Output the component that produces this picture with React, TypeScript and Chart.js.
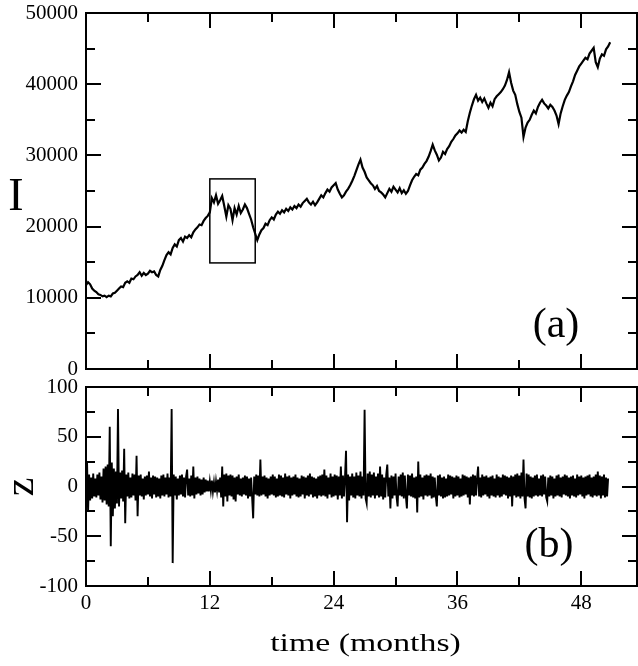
import React, { useEffect, useRef } from 'react';
import { Chart, registerables } from 'chart.js';

Chart.register(...registerables);

const FONT = '"Liberation Serif", "Times New Roman", serif';

// shared time axis (months)
const X_MIN = 0;
const X_MAX = 53.4;
const X_MAJOR = [0, 12, 24, 36, 48];
const X_MINOR = [6, 18, 30, 42];

// panel (a): index I, sampled every 0.2 months
const I_STEP = 0.2;
const I_VALUES = [
  11800, 12200, 11900, 11300, 11000, 10800, 10500, 10400, 10200, 10300,
  10100, 10300, 10200, 10600, 10700, 11000, 11300, 11600, 11500, 12100,
  12300, 12100, 12700, 12600, 13000, 13200, 13600, 13100, 13500, 13200,
  13400, 13800, 13600, 13700, 13200, 13000, 13900, 14500, 15300, 16000,
  16400, 16100, 17000, 17500, 17200, 18100, 18400, 17900, 18600, 18400,
  18800, 18500, 19200, 19600, 19900, 20300, 20200, 20800, 21200, 21500,
  22000, 24000, 23400, 24400, 23200, 23700, 24300, 22900, 21400, 23000,
  22500, 20900, 22600, 21700, 22900, 21900, 22400, 23100, 22600, 21800,
  21000, 19900, 19000, 18100, 18900, 19500, 19800, 20400, 20200, 20900,
  21300, 21000, 21700, 22100, 21800, 22300, 22000, 22500, 22200, 22700,
  22400, 22900, 22600, 23100, 22800, 23300, 23600, 23900, 23400, 23100,
  23500, 23000, 23400, 23900, 24400, 24100, 24700, 25200, 24900, 25500,
  25800, 26100, 25200, 24600, 24100, 24400, 24900, 25300, 25800, 26400,
  27100, 27900, 28700, 29400, 28300, 27700, 26900, 26500, 26100, 25800,
  25300, 25700, 25000, 24800, 24500, 24100, 24700, 25300, 24900, 25600,
  25200, 24800, 25400, 24700, 25100, 24600, 25000, 25800, 26500, 27000,
  27400, 27200, 28000, 28300, 28800, 29200, 29800, 30600, 31500, 30700,
  30100, 29300, 29700, 30500, 30200, 30900, 31300, 31900, 32300, 32800,
  33100, 33500, 33200, 33600, 33300, 34800, 36000, 37000, 37900, 38500,
  37700, 38100, 37500, 38000, 37300, 36700, 37400, 36900, 37900, 38300,
  38600, 38900, 39300, 39800, 40600, 41700, 40200, 39100, 38500, 37200,
  36100, 35300, 32600, 33900, 34600, 35000, 35700, 36300, 35900, 36800,
  37400, 37800, 37300, 37000, 36600, 37100, 36800, 36300, 35600, 34400,
  35900, 36900, 37800, 38400, 38900, 39700, 40400, 41300, 41900, 42500,
  42900, 43300, 43700, 43500, 44300, 44700, 45100, 43100, 42400, 43600,
  44200, 44000, 44900, 45300, 45900,
];
const I_MIN = 0;
const I_MAX = 50000;
const I_MAJOR = [0, 10000, 20000, 30000, 40000, 50000];
const I_MINOR = [5000, 15000, 25000, 35000, 45000];
const BOX_MONTHS = [12, 16.4];
const BOX_I = [14900, 26700];

// panel (b): z, sampled every 0.1 months
const Z_STEP = 0.1;
const Z_VALUES = [
  4, 25, -25, 12, -14, 9, -12, 13, -10, 8,
  -11, 12, -9, 14, -13, 10, -16, 18, -14, 20,
  -18, 22, -20, 60, -60, 24, -30, 18, -22, 15,
  -17, 78, -20, 14, -12, 16, -15, 38, -37, 12,
  -10, 14, -12, 9, -11, 13, -9, 12, -14, 31,
  -30, 11, -9, 12, -10, 8, -13, 10, -9, 11,
  -8, 15, -10, 9, -12, 11, -8, 10, -11, 9,
  -10, 8, -12, 11, -9, 12, -10, 9, -8, 13,
  -11, 9, -10, 78, -77, 12, -9, 10, -13, 8,
  -9, 11, -8, 12, -10, 9, -11, 10, 17, -9,
  8, -10, 11, -9, 20, -12, 9, -8, 10, -7,
  8, -9, 7, -8, 9, -6, 7, -5, 6, -5,
  5, -4, 6, -5, 4, -6, 5, -4, 7, -6,
  9, -11, 20, -20, 12, -10, 13, -15, 11, -9,
  12, -10, 11, -13, 9, -15, 10, -8, 12, -9,
  8, -10, 9, -8, 11, -9, 10, -12, 8, -10,
  9, -11, -32, 10, -8, 12, -9, 11, -10, 27,
  -9, 10, -8, 11, -10, 9, -12, 8, -9, 10,
  -8, 12, -9, 10, -11, 8, -10, 12, -9, 11,
  -10, 9, -11, 13, -8, 10, -9, 11, -12, 9,
  -9, 10, -8, 12, -10, 9, -11, 8, -10, 11,
  -8, 10, -12, 9, -9, 11, -10, 13, -8, 10,
  -11, 9, -10, 8, -12, 10, -9, 11, -10, 12,
  -9, 17, -10, 11, -12, 9, -8, 13, -11, 10,
  -10, 12, -9, 11, -13, 10, -9, 20, -12, 11,
  -10, 9, 36, -36, 12, -14, 10, -9, 13, -11,
  10, -12, 14, -9, 11, -10, 15, -12, 10, -9,
  77, -12, -17, 13, -10, 15, -11, 12, -9, 14,
  -12, 10, -9, 13, -11, 20, -10, 12, -13, 9,
  -11, 12, 22, -10, 9, -22, 11, -12, 10, -9,
  13, -11, -20, 10, -9, 12, -10, 14, -12, 11,
  -10, -22, 12, -9, 11, -10, 13, -11, 9, -12,
  10, -26, 25, -11, 12, -10, 9, -13, 11, -9,
  12, -10, 11, -9, 13, -12, 10, -11, 9, -10,
  -20, 11, -9, 12, -10, 9, -12, 10, -11, 8,
  -10, 12, -9, 11, -8, 10, -12, 9, -10, 11,
  -9, 10, -11, 8, -10, 12, -9, 11, -8, 10,
  -11, 9, -18, 10, -9, 12, -10, 11, -9, 8,
  20, -10, 9, -11, 12, -9, 10, -8, 11, -10,
  9, -12, 10, -9, 11, -10, 8, -11, 12, -9,
  10, -11, 9, -10, 12, -8, 11, -9, 10, -12,
  9, -10, 11, -20, 10, -9, 12, -11, 13, -10,
  11, -12, 14, -10, 27, -12, -22, 13, -10, 12,
  -11, 10, -12, 9, -10, 11, -9, 12, -10, 8,
  -9, 11, -10, 12, -8, 10, -11, -15, 9, -10,
  11, -9, 10, -12, 8, -10, 11, -9, 12, -10,
  9, -11, 10, -8, 12, -9, 11, -10, 9, -12,
  10, -9, 11, -10, 8, -11, 12, -9, 10, -8,
  11, -10, 9, -12, 10, -9, 11, -8, 12, -10,
  9, -11, 10, -9, 12, -10, 15, -9, 11, -12,
  10, -9, 12, -11, 9, -10, 8,
];
const Z_MIN = -100;
const Z_MAX = 100;
const Z_MAJOR = [-100, -50, 0, 50, 100];
const Z_MINOR = [-75, -25, 25, 75];

const MAJOR_LEN = 15;
const MINOR_LEN = 9;

function seg(ctx: CanvasRenderingContext2D, x1: number, y1: number, x2: number, y2: number) {
  ctx.beginPath();
  ctx.moveTo(x1, y1);
  ctx.lineTo(x2, y2);
  ctx.stroke();
}

function framePlugin(yMajor: number[], yMinor: number[], extra: (chart: any, ctx: CanvasRenderingContext2D) => void) {
  return {
    id: 'frameTicks',
    afterDraw(chart: any) {
      const ctx: CanvasRenderingContext2D = chart.ctx;
      const { left, right, top, bottom } = chart.chartArea;
      const xs = chart.scales.x;
      const ys = chart.scales.y;
      ctx.save();
      ctx.strokeStyle = '#000';
      ctx.lineWidth = 2;
      ctx.strokeRect(left, top, right - left, bottom - top);
      const xt = (vals: number[], len: number) => {
        vals.forEach((v) => {
          const p = Math.round(xs.getPixelForValue(v));
          seg(ctx, p, bottom, p, bottom - len);
          seg(ctx, p, top, p, top + len);
        });
      };
      const yt = (vals: number[], len: number) => {
        vals.forEach((v) => {
          const p = Math.round(ys.getPixelForValue(v));
          seg(ctx, left, p, left + len, p);
          seg(ctx, right, p, right - len, p);
        });
      };
      xt(X_MAJOR, MAJOR_LEN);
      xt(X_MINOR, MINOR_LEN);
      yt(yMajor, MAJOR_LEN);
      yt(yMinor, MINOR_LEN);
      extra(chart, ctx);
      ctx.restore();
    },
  };
}

const tickFont = { family: FONT, size: 21 };

function TopPanel() {
  const ref = useRef<HTMLCanvasElement>(null);
  useEffect(() => {
    const extra = (chart: any, ctx: CanvasRenderingContext2D) => {
      const xs = chart.scales.x;
      const ys = chart.scales.y;
      // inset box
      const x1 = xs.getPixelForValue(BOX_MONTHS[0]);
      const x2 = xs.getPixelForValue(BOX_MONTHS[1]);
      const y1 = ys.getPixelForValue(BOX_I[1]);
      const y2 = ys.getPixelForValue(BOX_I[0]);
      ctx.lineWidth = 1.5;
      ctx.strokeRect(x1, y1, x2 - x1, y2 - y1);
      ctx.fillStyle = '#000';
      ctx.textAlign = 'center';
      ctx.textBaseline = 'alphabetic';
      ctx.font = `46px ${FONT}`;
      ctx.fillText('I', 16, 210);
      ctx.font = `42px ${FONT}`;
      ctx.fillText('(a)', 556, 337);
    };
    const chart = new Chart(ref.current!, {
      type: 'line',
      data: {
        datasets: [
          {
            data: I_VALUES.map((v, i) => ({ x: i * I_STEP, y: v })),
            borderColor: '#000',
            borderWidth: 2.2,
            pointRadius: 0,
            tension: 0,
            fill: false,
          },
        ],
      },
      options: {
        animation: false,
        responsive: false,
        events: [],
        layout: { padding: { top: 13, right: 1, bottom: 9, left: 0 } },
        plugins: { legend: { display: false }, tooltip: { enabled: false } },
        scales: {
          x: { type: 'linear', min: X_MIN, max: X_MAX, display: false },
          y: {
            type: 'linear',
            min: I_MIN,
            max: I_MAX,
            grid: { display: false, drawTicks: false },
            border: { display: false },
            ticks: {
              stepSize: 10000,
              padding: 8,
              color: '#000',
              font: tickFont,
              autoSkip: false,
              includeBounds: false,
              callback: (v: any) => String(v),
            },
            afterFit: (s: any) => {
              s.width = 86;
              s.paddingTop = 0;
              s.paddingBottom = 0;
            },
          },
        },
      } as any,
      plugins: [framePlugin(I_MAJOR, I_MINOR, extra)],
    });
    return () => chart.destroy();
  }, []);
  return <canvas ref={ref} width={638} height={378} style={{ position: 'absolute', left: 0, top: 0, width: 638, height: 378 }} />;
}

function BottomPanel() {
  const ref = useRef<HTMLCanvasElement>(null);
  useEffect(() => {
    const extra = (chart: any, ctx: CanvasRenderingContext2D) => {
      const { left, right } = chart.chartArea;
      ctx.fillStyle = '#000';
      ctx.textAlign = 'center';
      ctx.textBaseline = 'alphabetic';
      ctx.font = `42px ${FONT}`;
      ctx.fillText('(b)', 549, 179);
      ctx.save();
      ctx.translate(33, 109);
      ctx.rotate(-Math.PI / 2);
      ctx.font = `42px ${FONT}`;
      ctx.fillText('z', 0, 0);
      ctx.restore();
      ctx.save();
      ctx.translate((left + right) / 2 + 4, 273);
      ctx.scale(1.3, 1);
      ctx.font = `26px ${FONT}`;
      ctx.fillText('time (months)', 0, 0);
      ctx.restore();
    };
    const chart = new Chart(ref.current!, {
      type: 'line',
      data: {
        datasets: [
          {
            data: Z_VALUES.map((v, i) => ({ x: i * Z_STEP, y: v })),
            borderColor: '#000',
            borderWidth: 1.9,
            pointRadius: 0,
            tension: 0,
            fill: false,
          },
        ],
      },
      options: {
        animation: false,
        responsive: false,
        events: [],
        layout: { padding: { top: 9, right: 1, bottom: 0, left: 0 } },
        plugins: { legend: { display: false }, tooltip: { enabled: false } },
        scales: {
          x: {
            type: 'linear',
            min: X_MIN,
            max: X_MAX,
            grid: { display: false, drawTicks: false },
            border: { display: false },
            ticks: {
              stepSize: 12,
              padding: 5,
              color: '#000',
              font: tickFont,
              autoSkip: false,
              maxRotation: 0,
              includeBounds: false,
              callback: (v: any) => String(v),
            },
            afterFit: (s: any) => {
              s.height = 80;
              s.paddingLeft = 0;
              s.paddingRight = 0;
            },
          },
          y: {
            type: 'linear',
            min: Z_MIN,
            max: Z_MAX,
            grid: { display: false, drawTicks: false },
            border: { display: false },
            ticks: {
              stepSize: 50,
              padding: 8,
              color: '#000',
              font: tickFont,
              autoSkip: false,
              includeBounds: false,
              callback: (v: any) => String(v),
            },
            afterFit: (s: any) => {
              s.width = 86;
              s.paddingTop = 0;
              s.paddingBottom = 0;
            },
          },
        },
      } as any,
      plugins: [framePlugin(Z_MAJOR, Z_MINOR, extra)],
    });
    return () => chart.destroy();
  }, []);
  return <canvas ref={ref} width={638} height={288} style={{ position: 'absolute', left: 0, top: 378, width: 638, height: 288 }} />;
}

export default function App() {
  return (
    <div style={{ position: 'absolute', left: 0, top: 0, width: 638, height: 666, background: '#fff' }}>
      <TopPanel />
      <BottomPanel />
    </div>
  );
}
